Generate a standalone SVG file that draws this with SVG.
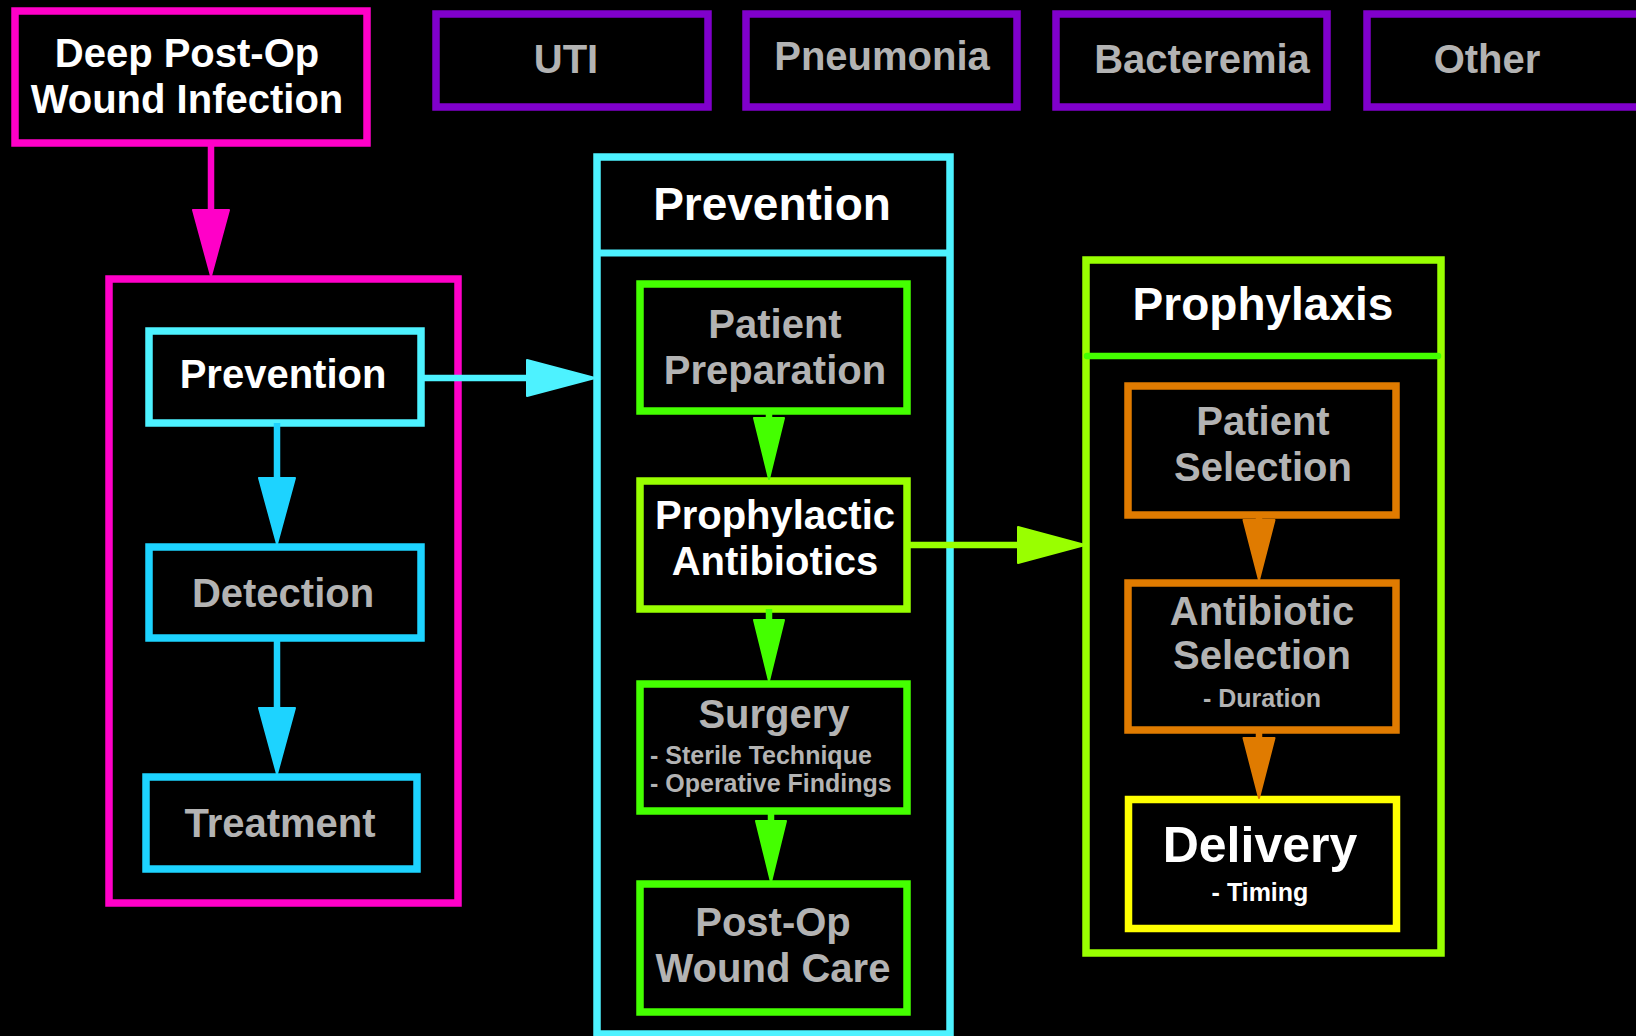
<svg xmlns="http://www.w3.org/2000/svg" width="1636" height="1036" viewBox="0 0 1636 1036">
<style>
text{font-family:"Liberation Sans",Arial,sans-serif;font-weight:bold;text-anchor:middle}
.t40{font-size:40px}
.t46{font-size:46px}
.t50{font-size:50px}
.t25{font-size:25px}
.w{fill:#FFFFFF}
.g{fill:#B3B3B3}
.box{fill:#000000;stroke-width:7.5}
.pink{stroke:#FF00C8}
.purple{stroke:#8000CC}
.lcyan{stroke:#4DF2FF}
.cyan{stroke:#1DD3FF}
.green{stroke:#44FF00}
.lime{stroke:#99FF00}
.orange{stroke:#E07B00}
.yellow{stroke:#FFFF00}
.conn{fill:none;stroke-width:6.5}
</style>
<defs>
<marker id="mPink" markerUnits="userSpaceOnUse" viewBox="0 0 66 36" markerWidth="66" markerHeight="36" refX="0" refY="18" orient="auto" overflow="visible"><path d="M0,0 L66,18 L0,36 Z" fill="#FF00C8" stroke="#FF00C8" stroke-width="2" stroke-linejoin="round"/></marker>
<marker id="mLCyan" markerUnits="userSpaceOnUse" viewBox="0 0 68 36" markerWidth="68" markerHeight="36" refX="0" refY="18" orient="auto" overflow="visible"><path d="M0,0 L68,18 L0,36 Z" fill="#4DF2FF" stroke="#4DF2FF" stroke-width="2" stroke-linejoin="round"/></marker>
<marker id="mCyan" markerUnits="userSpaceOnUse" viewBox="0 0 66 36" markerWidth="66" markerHeight="36" refX="0" refY="18" orient="auto" overflow="visible"><path d="M0,0 L66,18 L0,36 Z" fill="#1DD3FF" stroke="#1DD3FF" stroke-width="2" stroke-linejoin="round"/></marker>
<marker id="mGreen" markerUnits="userSpaceOnUse" viewBox="0 0 61 30" markerWidth="61" markerHeight="30" refX="0" refY="15" orient="auto" overflow="visible"><path d="M0,0 L61,15 L0,30 Z" fill="#44FF00" stroke="#44FF00" stroke-width="2" stroke-linejoin="round"/></marker>
<marker id="mLime" markerUnits="userSpaceOnUse" viewBox="0 0 67 36" markerWidth="67" markerHeight="36" refX="0" refY="18" orient="auto" overflow="visible"><path d="M0,0 L67,18 L0,36 Z" fill="#99FF00" stroke="#99FF00" stroke-width="2" stroke-linejoin="round"/></marker>
<marker id="mOrange" markerUnits="userSpaceOnUse" viewBox="0 0 60 31" markerWidth="60" markerHeight="31" refX="0" refY="15.5" orient="auto" overflow="visible"><path d="M0,0 L60,15.5 L0,31 Z" fill="#E07B00" stroke="#E07B00" stroke-width="2" stroke-linejoin="round"/></marker>
</defs>
<rect x="0" y="0" width="1636" height="1036" fill="#000000"/>

<g id="deep-postop">
<rect class="box pink" x="15" y="11" width="352" height="132"/>
<text class="t40 w" x="187" y="67">Deep Post-Op</text>
<text class="t40 w" x="187" y="113">Wound Infection</text>
</g>
<g id="uti">
<rect class="box purple" x="436" y="14" width="272" height="93"/>
<text class="t40 g" x="566" y="73">UTI</text>
</g>
<g id="pneumonia">
<rect class="box purple" x="746" y="14" width="271" height="93"/>
<text class="t40 g" x="882" y="70">Pneumonia</text>
</g>
<g id="bacteremia">
<rect class="box purple" x="1056" y="14" width="271" height="93"/>
<text class="t40 g" x="1202" y="73">Bacteremia</text>
</g>
<g id="other">
<rect class="box purple" x="1367" y="14" width="300" height="93"/>
<text class="t40 g" x="1487" y="73">Other</text>
</g>

<g id="infection-cluster">
<rect class="box pink" x="109" y="279" width="349" height="624"/>
</g>
<g id="prevention-left">
<rect class="box lcyan" x="149" y="331" width="272" height="92"/>
<text class="t40 w" x="283" y="388">Prevention</text>
</g>
<g id="detection">
<rect class="box cyan" x="149" y="547" width="272" height="91"/>
<text class="t40 g" x="283" y="607">Detection</text>
</g>
<g id="treatment">
<rect class="box cyan" x="146" y="777" width="271" height="92"/>
<text class="t40 g" x="280" y="837">Treatment</text>
</g>

<g id="prevention-cluster">
<rect class="box lcyan" x="597" y="157" width="353" height="877"/>
<line class="lcyan" x1="597" y1="253" x2="950" y2="253" stroke-width="7"/>
<text class="t46 w" x="772" y="220">Prevention</text>
</g>
<g id="patient-preparation">
<rect class="box green" x="640" y="284" width="267" height="127"/>
<text class="t40 g" x="775" y="338">Patient</text>
<text class="t40 g" x="775" y="384">Preparation</text>
</g>
<g id="prophylactic-antibiotics">
<rect class="box lime" x="640" y="481" width="267" height="128"/>
<text class="t40 w" x="775" y="529">Prophylactic</text>
<text class="t40 w" x="775" y="575">Antibiotics</text>
</g>
<g id="surgery">
<rect class="box green" x="640" y="684" width="267" height="127"/>
<text class="t40 g" x="774" y="728">Surgery</text>
<text class="t25 g" x="650" y="764" style="text-anchor:start">- Sterile Technique</text>
<text class="t25 g" x="650" y="792" style="text-anchor:start">- Operative Findings</text>
</g>
<g id="postop-wound-care">
<rect class="box green" x="640" y="884" width="267" height="128"/>
<text class="t40 g" x="773" y="936">Post-Op</text>
<text class="t40 g" x="773" y="982">Wound Care</text>
</g>

<g id="prophylaxis-cluster">
<rect class="box lime" x="1086" y="260" width="355" height="693"/>
<line class="green" x1="1087" y1="356" x2="1438" y2="356" stroke-width="6.5" stroke-linecap="round"/>
<text class="t46 w" x="1263" y="320">Prophylaxis</text>
</g>
<g id="patient-selection">
<rect class="box orange" x="1128" y="386" width="268" height="129"/>
<text class="t40 g" x="1263" y="435">Patient</text>
<text class="t40 g" x="1263" y="481">Selection</text>
</g>
<g id="antibiotic-selection">
<rect class="box orange" x="1128" y="583" width="268" height="147"/>
<text class="t40 g" x="1262" y="625">Antibiotic</text>
<text class="t40 g" x="1262" y="669">Selection</text>
<text class="t25 g" x="1262" y="707">- Duration</text>
</g>
<g id="delivery">
<rect class="box yellow" x="1128.5" y="799.5" width="268" height="129" stroke-width="9"/>
<text class="t50 w" x="1260" y="862">Delivery</text>
<text class="t25 w" x="1260" y="901">- Timing</text>
</g>

<g id="connectors">
<path class="conn pink" d="M211,143 L211,210" marker-end="url(#mPink)"/>
<path class="conn lcyan" d="M421,378 L527,378" marker-end="url(#mLCyan)"/>
<path class="conn cyan" d="M277,423 L277,478" marker-end="url(#mCyan)"/>
<path class="conn cyan" d="M277,638 L277,708" marker-end="url(#mCyan)"/>
<path class="conn green" d="M769,411 L769,418" marker-end="url(#mGreen)"/>
<path class="conn green" d="M769,609 L769,620" marker-end="url(#mGreen)"/>
<path class="conn green" d="M771,811 L771,821" marker-end="url(#mGreen)"/>
<path class="conn lime" d="M907,545 L1018,545" marker-end="url(#mLime)"/>
<path class="conn orange" d="M1259,515 L1259,520" marker-end="url(#mOrange)"/>
<path class="conn orange" d="M1259,730 L1259,738" marker-end="url(#mOrange)"/>
</g>
</svg>
